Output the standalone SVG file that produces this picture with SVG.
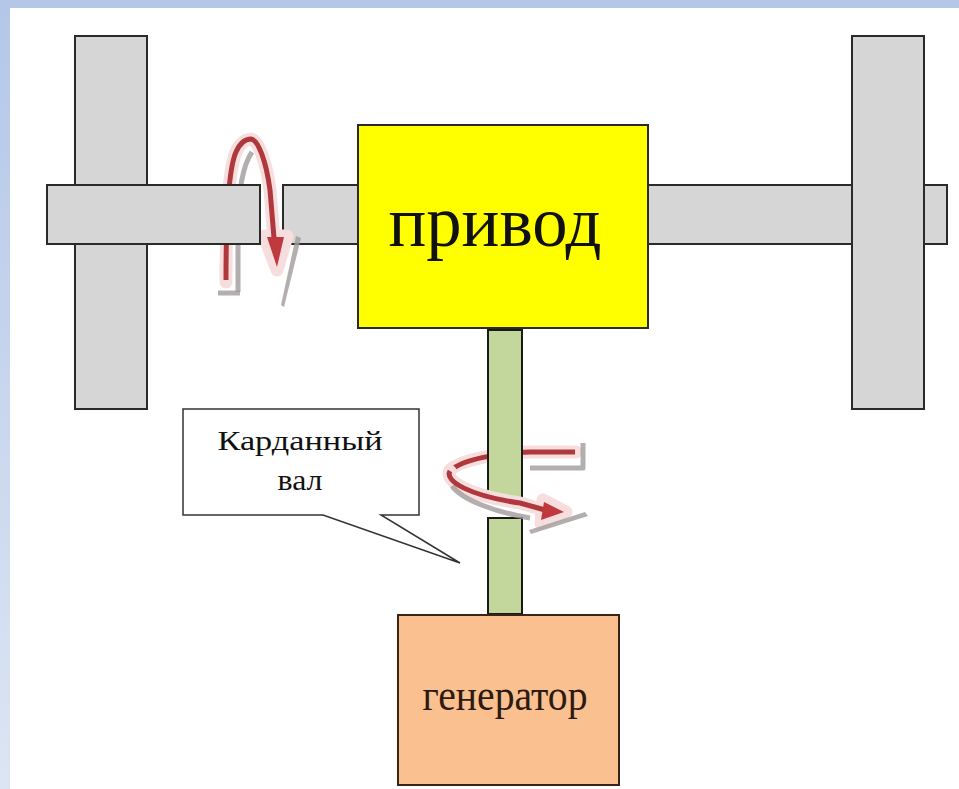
<svg xmlns="http://www.w3.org/2000/svg" width="959" height="789" viewBox="0 0 959 789">
<defs>
<linearGradient id="band" x1="0" y1="0" x2="0" y2="1">
<stop offset="0" stop-color="#b4c7e9"/>
<stop offset="1" stop-color="#dce5f3"/>
</linearGradient>
<style>
.part{fill:#d6d6d6;stroke:#2a2a2a;stroke-width:2}
.halo{fill:none;stroke:#f6dede;stroke-width:13;stroke-linecap:round;stroke-linejoin:round}
.shadow{fill:none;stroke:#a09a9c;stroke-width:5;stroke-linejoin:round;opacity:0.8}
.red{fill:none;stroke:#b0383c;stroke-width:5;stroke-linejoin:round}
.lbl{font-family:"Liberation Serif","Times New Roman",serif;fill:#111}
</style>
</defs>
<rect width="959" height="789" fill="#ffffff"/>
<rect x="0" y="0" width="959" height="8" fill="#b4c7e9"/>
<rect x="0" y="0" width="10" height="789" fill="url(#band)"/>

<g id="axle-right">
<rect class="part" x="283" y="185" width="664" height="59"/>
</g>
<g id="wheel-left">
<rect class="part" x="75" y="36" width="72" height="373"/>
</g>

<g id="arrow-axle">
<path class="halo" d="M226,282 C226,230 228,170 236,152 C240,143 246,139 251,139 C258,140 266,160 270,190 L274,240"/>
<path class="halo" d="M264,236 L287,236 L277,270 Z" fill="#f6dede"/>
<path class="shadow" d="M238,292 L238,230 C238,190 243,165 252,152"/>
<path class="shadow" d="M218,293 L240,293"/>
<path fill="#a09a9c" opacity="0.8" d="M296,236 L301,238 L284,307 L281,305 Z"/>
<path class="red" d="M226,280 C226,230 228,170 236,152 C240,143 246,139 251,139 C258,140 266,160 270,190 L274,238"/>
<polygon points="267,237 284,237 277,267" fill="#c0393e"/>
</g>

<g id="axle-left">
<rect class="part" x="47" y="185" width="213" height="59"/>
</g>

<g id="wheel-right">
<rect class="part" x="852" y="36" width="72" height="373"/>
</g>

<g id="arrow-shaft-back">
<path class="halo" d="M576,452 L530,452 C500,453 462,459 450,470"/>
<path class="shadow" d="M583,443 L583,468 L530,468"/>
<path class="red" d="M575,452 L530,452 C500,453 462,459 450,471"/>
</g>

<g id="shaft">
<rect x="488" y="330" width="34" height="171" fill="#c3d69b" stroke="#1a1a1a" stroke-width="2"/>
<rect x="488" y="518" width="34" height="96" fill="#c3d69b" stroke="#1a1a1a" stroke-width="2"/>
</g>

<g id="arrow-shaft-front">
<path class="halo" d="M450,471 C444,481 470,496 520,503 L545,510"/>
<path class="halo" d="M543,500 L566,512 L541,523 Z" fill="#f6dede"/>
<path class="shadow" d="M452,486 C462,500 495,512 530,518"/>
<path fill="#a09a9c" opacity="0.8" d="M585,512 L588,516 L531,534 L529,530 Z"/>
<path class="red" d="M450,471 C444,481 470,496 520,503 L545,510"/>
<polygon points="544,502 564,512 541,520" fill="#c0393e"/>
</g>

<g id="drive">
<rect x="358" y="125" width="290" height="203" fill="#ffff00" stroke="#2a2a2a" stroke-width="2"/>
<text class="lbl" x="495" y="246" font-size="72" text-anchor="middle" textLength="213" lengthAdjust="spacingAndGlyphs">привод</text>
</g>

<g id="generator">
<rect x="398" y="615" width="221" height="170" fill="#fac090" stroke="#3a2418" stroke-width="2"/>
<text class="lbl" x="505" y="710" font-size="44" text-anchor="middle" fill="#2d1a10" textLength="165" lengthAdjust="spacingAndGlyphs" style="fill:#2d1a10">генератор</text>
</g>

<g id="callout">
<path d="M183,409 H419 V515 H381 L460,563 L323,515 H183 Z" fill="#ffffff" stroke="#333333" stroke-width="1.5" stroke-linejoin="miter"/>
<text class="lbl" x="300" y="450" font-size="28" text-anchor="middle" textLength="165" lengthAdjust="spacingAndGlyphs">Карданный</text>
<text class="lbl" x="300" y="490" font-size="29" text-anchor="middle" textLength="45" lengthAdjust="spacingAndGlyphs">вал</text>
</g>
</svg>
